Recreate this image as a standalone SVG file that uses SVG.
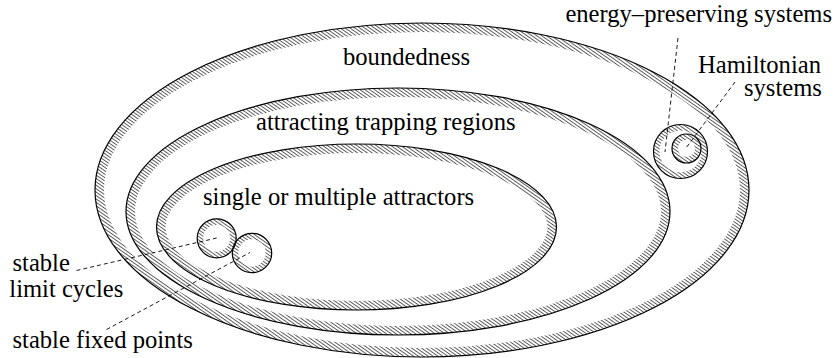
<svg xmlns="http://www.w3.org/2000/svg" width="835" height="358" viewBox="0 0 835 358">
<style>
.outline{fill:none;stroke:#000;stroke-width:1.2}
.hatch{fill:none;stroke:url(#hatch)}
.conn{fill:none;stroke:#000;stroke-width:0.9;stroke-dasharray:4 3}
.lbl{font-family:'Liberation Serif','DejaVu Serif',serif;font-size:24.6px;fill:#000}
</style>
<defs>
<pattern id="hatch" width="8" height="2.8" patternUnits="userSpaceOnUse" patternTransform="rotate(35)">
<line x1="0" y1="1.4" x2="8" y2="1.4" stroke="#333" stroke-width="0.8"/>
</pattern>
<clipPath id="c-outer"><ellipse cx="422" cy="190" rx="327" ry="167"/></clipPath>
<clipPath id="c-middle"><ellipse cx="398" cy="211.5" rx="272" ry="123.5"/></clipPath>
<clipPath id="c-inner"><ellipse cx="356.5" cy="227" rx="200" ry="83"/></clipPath>
<clipPath id="c-lc"><circle cx="216.7" cy="238.3" r="19.5"/></clipPath>
<clipPath id="c-fp"><circle cx="252" cy="253" r="19.7"/></clipPath>
<clipPath id="c-ep"><circle cx="680.5" cy="151.5" r="27"/></clipPath>
<clipPath id="c-ham"><circle cx="686.5" cy="148.5" r="14.5"/></clipPath>
</defs>

<g id="boundedness">
<ellipse class="hatch" cx="422" cy="190" rx="327" ry="167" stroke-width="18" clip-path="url(#c-outer)"/>
<ellipse class="outline" cx="422" cy="190" rx="327" ry="167"/>
<text class="lbl" x="343" y="65">boundedness</text>
</g>

<g id="attracting-trapping-regions">
<ellipse class="hatch" cx="398" cy="211.5" rx="272" ry="123.5" stroke-width="18" clip-path="url(#c-middle)"/>
<ellipse class="outline" cx="398" cy="211.5" rx="272" ry="123.5"/>
<text class="lbl" x="256" y="130">attracting trapping regions</text>
</g>

<g id="attractors">
<ellipse class="hatch" cx="356.5" cy="227" rx="200" ry="83" stroke-width="18" clip-path="url(#c-inner)"/>
<ellipse class="outline" cx="356.5" cy="227" rx="200" ry="83"/>
<text class="lbl" x="203" y="205">single or multiple attractors</text>
</g>

<g id="limit-cycles">
<circle class="hatch" cx="216.7" cy="238.3" r="19.5" stroke-width="12" clip-path="url(#c-lc)"/>
<circle class="outline" cx="216.7" cy="238.3" r="19.5"/>
<text class="lbl" x="12.5" y="270.5">stable</text>
<text class="lbl" x="9.3" y="296.5">limit cycles</text>
</g>

<g id="fixed-points">
<circle class="hatch" cx="252" cy="253" r="19.7" stroke-width="12" clip-path="url(#c-fp)"/>
<circle class="outline" cx="252" cy="253" r="19.7"/>
<text class="lbl" x="12.5" y="348">stable fixed points</text>
</g>

<g id="energy-preserving">
<circle class="hatch" cx="680.5" cy="151.5" r="27" stroke-width="12" clip-path="url(#c-ep)"/>
<circle class="outline" cx="680.5" cy="151.5" r="27"/>
<text class="lbl" x="832" y="22" text-anchor="end">energy–preserving systems</text>
</g>

<g id="hamiltonian">
<circle class="hatch" cx="686.5" cy="148.5" r="14.5" stroke-width="12" clip-path="url(#c-ham)"/>
<circle class="outline" cx="686.5" cy="148.5" r="14.5"/>
<text class="lbl" x="698" y="73">Hamiltonian</text>
<text class="lbl" x="744" y="95.5">systems</text>
</g>

<g id="connectors">
<line class="conn" x1="76.5" y1="270.5" x2="216.7" y2="238"/>
<line class="conn" x1="106.5" y1="329.5" x2="250" y2="252.5"/>
<line class="conn" x1="678" y1="38" x2="665" y2="152"/>
<line class="conn" x1="735" y1="82" x2="686" y2="148"/>
</g>
</svg>
